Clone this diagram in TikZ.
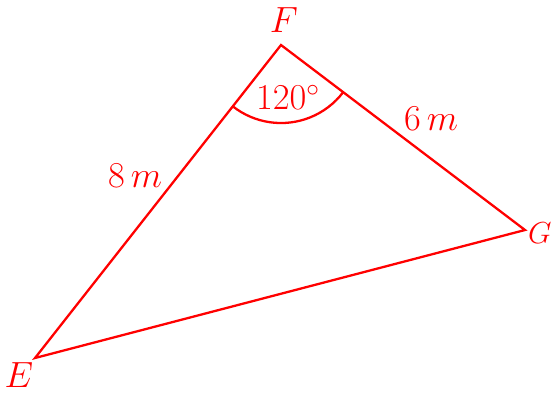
\documentclass[tikz,border=0pt]{standalone}
\usepackage{amsmath,amssymb}
\usepackage{xcolor}
\usetikzlibrary{calc}

\begin{document}
\begin{tikzpicture}[line join=miter]
    \useasboundingbox (0,0) rectangle (11.04,7.84);
    \tikzset{lbl/.style={red,inner sep=1pt,font=\fontsize{21}{24}\selectfont}}
    \coordinate (E) at (0.70,0.68);
    \coordinate (F) at (5.62,6.94);
    \coordinate (G) at (10.50,3.24);
    \draw[red,line width=1.3pt] (E) -- (F) -- (G) -- cycle;
    \draw[red,line width=1.3pt] ($(F)!1.56cm!(E)$) arc (231.8:322.8:1.56);
    \node[lbl] (labF) at (5.68,7.44) {$F$};
    \node[lbl,anchor=east,inner sep=0pt,font=\fontsize{19}{22}\selectfont] (labG) at (11.04,3.18) {$G$};
    \node[lbl] (labE) at (0.38,0.34) {$E$};
    \node[lbl] (sideEF) at (2.70,4.32) {$8\,m$};
    \node[lbl] (sideFG) at (8.62,5.46) {$6\,m$};
    \node[lbl] (angF) at (5.76,5.90) {$120^\circ$};
  \end{tikzpicture}
\end{document}
